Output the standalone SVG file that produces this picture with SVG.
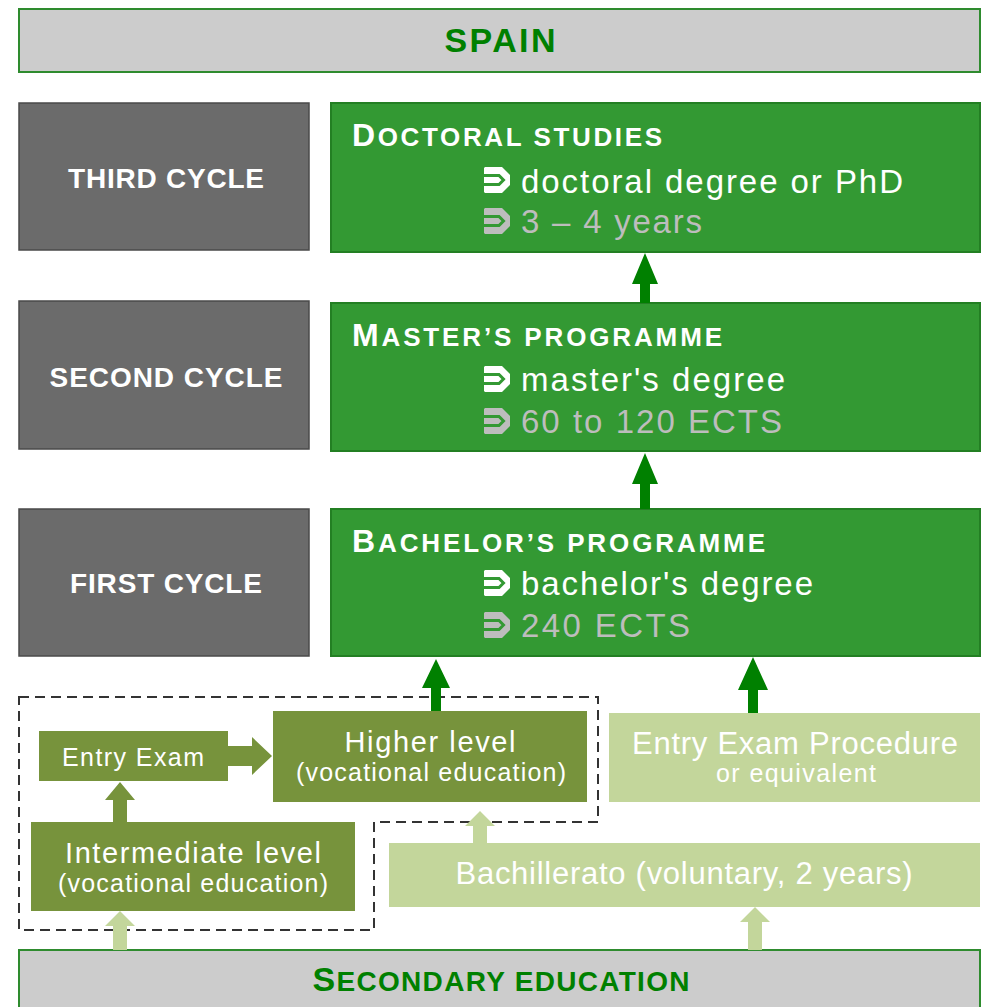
<svg xmlns="http://www.w3.org/2000/svg" width="985" height="1007" viewBox="0 0 985 1007">
<style>
text{font-family:"Liberation Sans",Arial,sans-serif}
.hdr{fill:#cccccc;stroke:#2e8b2e;stroke-width:2}
.hdrt{fill:#008000;font-weight:bold}
.cyc{fill:#6b6b6b;stroke:#4a4a4a;stroke-width:1.5}
.cyct{fill:#ffffff;font-weight:bold;font-size:28px}
.prog{fill:#339933;stroke:#237f23;stroke-width:2}
.pt{fill:#ffffff;font-weight:bold}
.w{fill:#ffffff;font-size:33px}
.g{fill:#bdbdbd;font-size:33px}
.olive{fill:#77933c}
.light{fill:#c3d69b}
.vt{fill:#ffffff}
.dash{fill:none;stroke:#333333;stroke-width:2;stroke-dasharray:10,6}
</style>
<defs>
<g id="bul">
<path d="M-12,-13 H5 L13,-5 V5 L5,13 H-12 L-13,12 V-12 Z"/>
<path d="M-14,-4.5 H2 L6.5,0 L2,4.5 H-14" fill="none" stroke="#339933" stroke-width="3"/>
</g>
</defs>

<g id="spain">
<rect class="hdr" x="19" y="9" width="961" height="63"/>
<text class="hdrt" x="500" y="52" font-size="34" text-anchor="middle" textLength="111">SPAIN</text>
</g>

<g id="third-cycle">
<rect class="cyc" x="19" y="103" width="290" height="147"/>
<text class="cyct" x="166" y="188" text-anchor="middle" textLength="196">THIRD CYCLE</text>
</g>
<g id="second-cycle">
<rect class="cyc" x="19" y="301" width="290" height="148"/>
<text class="cyct" x="166" y="387" text-anchor="middle" textLength="233">SECOND CYCLE</text>
</g>
<g id="first-cycle">
<rect class="cyc" x="19" y="509" width="290" height="147"/>
<text class="cyct" x="166" y="593" text-anchor="middle" textLength="192">FIRST CYCLE</text>
</g>

<g id="doctoral">
<rect class="prog" x="331" y="103" width="649" height="149"/>
<text class="pt" x="352" y="146" textLength="310"><tspan font-size="32">D</tspan><tspan font-size="26">OCTORAL STUDIES</tspan></text>
<use href="#bul" x="497" y="180" fill="#ffffff"/>
<text class="w" x="521" y="193" textLength="382">doctoral degree or PhD</text>
<use href="#bul" x="497" y="221" fill="#bdbdbd"/>
<text class="g" x="521" y="233" textLength="181">3 – 4 years</text>
</g>

<g id="master">
<rect class="prog" x="331" y="303" width="649" height="148"/>
<text class="pt" x="352" y="346" textLength="370"><tspan font-size="32">M</tspan><tspan font-size="26">ASTER’S PROGRAMME</tspan></text>
<use href="#bul" x="497" y="379" fill="#ffffff"/>
<text class="w" x="521" y="391" textLength="264">master's degree</text>
<use href="#bul" x="497" y="421" fill="#bdbdbd"/>
<text class="g" x="521" y="433" textLength="261">60 to 120 ECTS</text>
</g>

<g id="bachelor">
<rect class="prog" x="331" y="509" width="649" height="147"/>
<text class="pt" x="352" y="552" textLength="413"><tspan font-size="32">B</tspan><tspan font-size="26">ACHELOR’S PROGRAMME</tspan></text>
<use href="#bul" x="497" y="583" fill="#ffffff"/>
<text class="w" x="521" y="595" textLength="292">bachelor's degree</text>
<use href="#bul" x="497" y="625" fill="#bdbdbd"/>
<text class="g" x="521" y="637" textLength="169">240 ECTS</text>
</g>

<g id="vocational-group">
<path class="dash" d="M19,697 H598 V822 H374 V930 H19 Z"/>
</g>

<g id="entry-exam">
<rect class="olive" x="39" y="731" width="189" height="50"/>
<text class="vt" x="133" y="766" font-size="25" text-anchor="middle" textLength="142">Entry Exam</text>
</g>

<g id="higher-level">
<rect class="olive" x="273" y="711" width="314" height="91"/>
<text class="vt" x="430" y="752" font-size="29" text-anchor="middle" textLength="171">Higher level</text>
<text class="vt" x="431" y="781" font-size="25" text-anchor="middle" textLength="270">(vocational education)</text>
</g>

<g id="intermediate-level">
<rect class="olive" x="31" y="822" width="324" height="89"/>
<text class="vt" x="193" y="863" font-size="29" text-anchor="middle" textLength="256">Intermediate level</text>
<text class="vt" x="193" y="892" font-size="25" text-anchor="middle" textLength="270">(vocational education)</text>
</g>

<g id="entry-exam-procedure">
<rect class="light" x="609" y="713" width="371" height="89"/>
<text class="vt" x="795" y="754" font-size="31" text-anchor="middle" textLength="326">Entry Exam Procedure</text>
<text class="vt" x="796" y="782" font-size="25" text-anchor="middle" textLength="160">or equivalent</text>
</g>

<g id="bachillerato">
<rect class="light" x="389" y="843" width="591" height="64"/>
<text class="vt" x="684" y="884" font-size="31" text-anchor="middle" textLength="457">Bachillerato (voluntary, 2 years)</text>
</g>

<g id="secondary">
<rect class="hdr" x="19" y="950" width="961" height="62"/>
<text class="hdrt" x="501" y="991" textLength="377" text-anchor="middle"><tspan font-size="34">S</tspan><tspan font-size="28">ECONDARY EDUCATION</tspan></text>
</g>

<g id="connectors">
<path fill="#008000" d="M640,303 V284 H632 L645,253 L658,284 H650 V303 Z"/>
<path fill="#008000" d="M640,509 V484 H632 L645,453 L658,484 H650 V509 Z"/>
<path fill="#008000" d="M431,711 V688 H422 L436,659 L450,688 H441 V711 Z"/>
<path fill="#008000" d="M748,713 V690 H738 L753,657 L768,690 H758 V713 Z"/>
<path fill="#77933c" d="M228,746 H252 V737 L272,756 L252,775 V766 H228 Z"/>
<path fill="#77933c" d="M113,822 V800 H105 L120,782 L135,800 H127 V822 Z"/>
<path fill="#c3d69b" d="M473,843 V826 H465 L480,811 L495,826 H487 V843 Z"/>
<path fill="#c3d69b" d="M748,950 V922 H740 L755,907 L770,922 H762 V950 Z"/>
<path fill="#c3d69b" d="M113,950 V926 H105 L120,911 L135,926 H127 V950 Z"/>
</g>
</svg>
